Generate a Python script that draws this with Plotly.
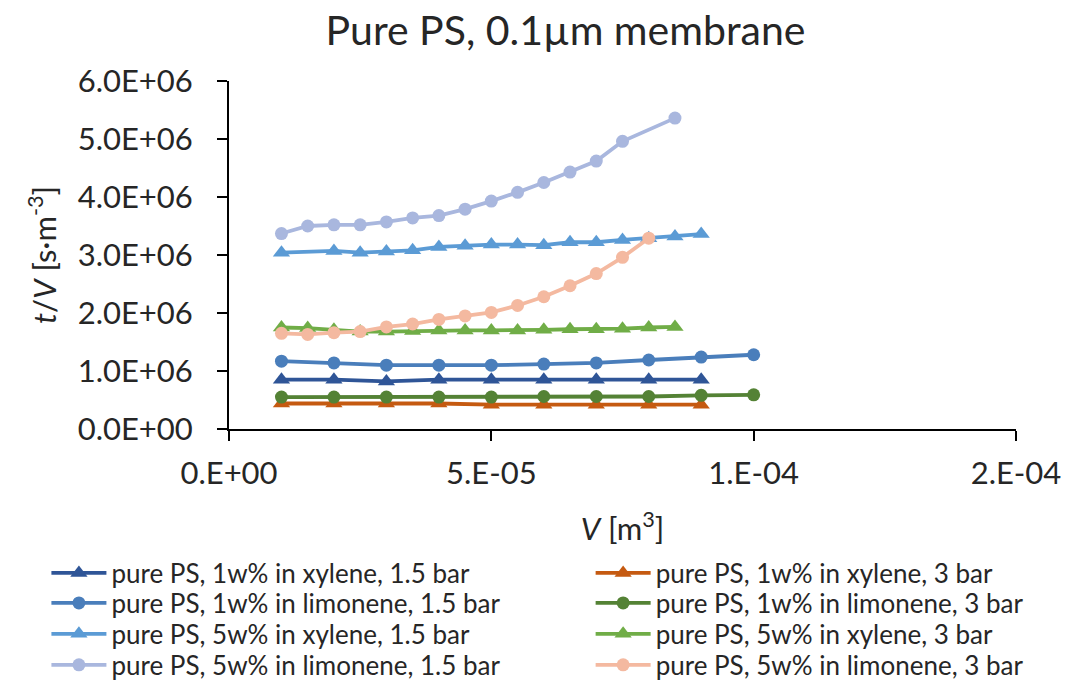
import plotly.graph_objects as go

# ---- data (x in m^3, y in s/m^3) ----
x_s1 = [1e-5, 2e-5, 3e-5, 4e-5, 5e-5, 6e-5, 7e-5, 8e-5, 9e-5]
y_s1 = [0.85e6, 0.85e6, 0.82e6, 0.85e6, 0.85e6, 0.85e6, 0.85e6, 0.85e6, 0.85e6]

x_s2 = [1e-5, 2e-5, 3e-5, 4e-5, 5e-5, 6e-5, 7e-5, 8e-5, 9e-5, 1e-4]
y_s2 = [1.17e6, 1.14e6, 1.10e6, 1.10e6, 1.10e6, 1.12e6, 1.14e6, 1.19e6, 1.24e6, 1.28e6]

x_s3 = [1e-5, 2e-5, 2.5e-5, 3e-5, 3.5e-5, 4e-5, 4.5e-5, 5e-5, 5.5e-5, 6e-5, 6.5e-5, 7e-5, 7.5e-5, 8e-5, 8.5e-5, 9e-5]
y_s3 = [3.04e6, 3.07e6, 3.04e6, 3.06e6, 3.08e6, 3.14e6, 3.16e6, 3.18e6, 3.18e6, 3.17e6, 3.22e6, 3.22e6, 3.26e6, 3.29e6, 3.32e6, 3.36e6]

x_s4 = [1e-5, 1.5e-5, 2e-5, 2.5e-5, 3e-5, 3.5e-5, 4e-5, 4.5e-5, 5e-5, 5.5e-5, 6e-5, 6.5e-5, 7e-5, 7.5e-5, 8.5e-5]
y_s4 = [3.37e6, 3.50e6, 3.52e6, 3.52e6, 3.57e6, 3.64e6, 3.68e6, 3.79e6, 3.93e6, 4.08e6, 4.25e6, 4.43e6, 4.62e6, 4.96e6, 5.36e6]

x_s5 = [1e-5, 2e-5, 3e-5, 4e-5, 5e-5, 6e-5, 7e-5, 8e-5, 9e-5]
y_s5 = [0.44e6, 0.44e6, 0.44e6, 0.44e6, 0.42e6, 0.42e6, 0.42e6, 0.42e6, 0.42e6]

x_s6 = [1e-5, 2e-5, 3e-5, 4e-5, 5e-5, 6e-5, 7e-5, 8e-5, 9e-5, 1e-4]
y_s6 = [0.55e6, 0.55e6, 0.55e6, 0.55e6, 0.55e6, 0.56e6, 0.56e6, 0.56e6, 0.58e6, 0.59e6]

x_s7 = [1e-5, 1.5e-5, 2e-5, 2.5e-5, 3e-5, 3.5e-5, 4e-5, 4.5e-5, 5e-5, 5.5e-5, 6e-5, 6.5e-5, 7e-5, 7.5e-5, 8e-5, 8.5e-5]
y_s7 = [1.75e6, 1.74e6, 1.71e6, 1.68e6, 1.68e6, 1.69e6, 1.70e6, 1.70e6, 1.70e6, 1.70e6, 1.71e6, 1.72e6, 1.72e6, 1.73e6, 1.75e6, 1.76e6]

x_s8 = [1e-5, 1.5e-5, 2e-5, 2.5e-5, 3e-5, 3.5e-5, 4e-5, 4.5e-5, 5e-5, 5.5e-5, 6e-5, 6.5e-5, 7e-5, 7.5e-5, 8e-5]
y_s8 = [1.65e6, 1.63e6, 1.66e6, 1.68e6, 1.76e6, 1.81e6, 1.89e6, 1.95e6, 2.01e6, 2.13e6, 2.28e6, 2.47e6, 2.68e6, 2.96e6, 3.29e6]

names = [
    "pure PS, 1w% in xylene, 1.5 bar",
    "pure PS, 1w% in limonene, 1.5 bar",
    "pure PS, 5w% in xylene, 1.5 bar",
    "pure PS, 5w% in limonene, 1.5 bar",
    "pure PS, 1w% in xylene, 3 bar",
    "pure PS, 1w% in limonene, 3 bar",
    "pure PS, 5w% in xylene, 3 bar",
    "pure PS, 5w% in limonene, 3 bar",
]
xs = [x_s1, x_s2, x_s3, x_s4, x_s5, x_s6, x_s7, x_s8]
ys = [y_s1, y_s2, y_s3, y_s4, y_s5, y_s6, y_s7, y_s8]
colors = ["#2F5597", "#4A7EBB", "#5B9BD5", "#A9B7DE",
          "#C55A11", "#548235", "#70AD47", "#F4B9A0"]
symbols = ["triangle-up", "circle", "triangle-up", "circle",
           "triangle-up", "circle", "triangle-up", "circle"]

x_tickvals = [0, 5e-5, 1e-4, 1.5e-4]
x_ticktext = ["0.E+00", "5.E-05", "1.E-04", "2.E-04"]
y_tickvals = [0, 1e6, 2e6, 3e6, 4e6, 5e6, 6e6]
y_ticktext = ["0.0E+00", "1.0E+06", "2.0E+06", "3.0E+06", "4.0E+06", "5.0E+06", "6.0E+06"]

FONT = "Lato"
TXT = "#262626"

# one legend per entry so the two-column Excel legend can be placed exactly
legend_keys = ["legend"] + ["legend%d" % k for k in range(2, 9)]
legend_x = [-0.232] * 4 + [0.4595] * 4
row_y = [-0.4138, -0.50, -0.589, -0.678]
legend_y = row_y + row_y

fig = go.Figure()
for i in range(8):
    fig.add_trace(go.Scatter(
        x=xs[i], y=ys[i], name=names[i], mode="lines+markers",
        legend=legend_keys[i],
        line=dict(color=colors[i], width=3.8),
        marker=dict(symbol=symbols[i], color=colors[i], size=13 if symbols[i] == "circle" else 15),
    ))

legends = {}
for i, key in enumerate(legend_keys):
    legends[key] = dict(orientation="v", x=legend_x[i], xanchor="left",
                        y=legend_y[i], yanchor="middle", itemwidth=55,
                        font=dict(size=26, family=FONT, color=TXT),
                        bgcolor="rgba(0,0,0,0)", borderwidth=0)

fig.update_layout(
    width=1067, height=688,
    margin=dict(l=229, r=51, t=81, b=259, autoexpand=False),
    paper_bgcolor="white", plot_bgcolor="white",
    font=dict(family=FONT, color=TXT),
    title=dict(text="Pure PS, 0.1µm membrane", x=0.53, xanchor="center", y=0.955, yanchor="middle",
               font=dict(size=41, family=FONT, color=TXT)),
    showlegend=True,
    **legends,
)

fig.update_xaxes(
    range=[0, 1.5e-4], tickvals=x_tickvals, ticktext=x_ticktext,
    showgrid=False, zeroline=False, showline=True, linecolor="#000000", linewidth=2,
    ticks="outside", ticklen=10, tickwidth=2, tickcolor="#000000",
    ticklabelstandoff=6,
    tickfont=dict(size=31, family=FONT, color=TXT),
    title=dict(text="<i>V</i> [m<sup>3</sup>]", font=dict(size=31, family=FONT, color=TXT), standoff=28),
)
fig.update_yaxes(
    range=[0, 6e6], tickvals=y_tickvals, ticktext=y_ticktext,
    showgrid=False, zeroline=False, showline=True, linecolor="#000000", linewidth=2,
    ticks="outside", ticklen=10, tickwidth=2, tickcolor="#000000",
    ticklabelstandoff=18,
    tickfont=dict(size=31, family=FONT, color=TXT),
    title=dict(text="<i>t</i>/<i>V</i> [s·m<sup>-3</sup>]", font=dict(size=31, family=FONT, color=TXT), standoff=12),
)

fig.write_html("out.html")
